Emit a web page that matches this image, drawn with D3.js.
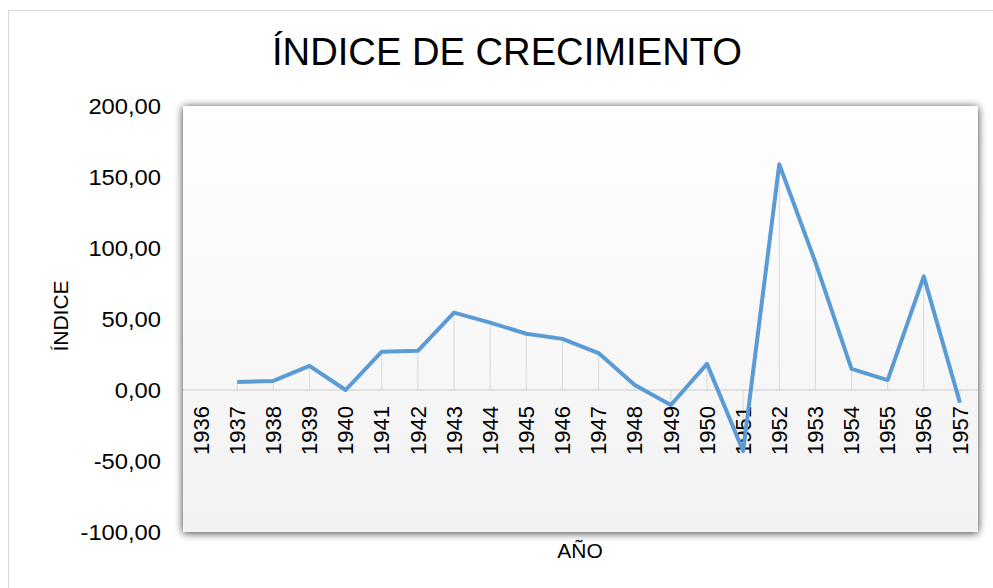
<!DOCTYPE html>
<html>
<head>
<meta charset="utf-8">
<script src="https://cdn.jsdelivr.net/npm/d3@7"></script>
<style>
  body { margin: 0; background: #fff; }
  text { font-family: "Liberation Sans", Arial, sans-serif; fill: #000; }
</style>
</head>
<body>
<svg id="chart" width="993" height="588"></svg>
<script>
// data
var years = ["1936","1937","1938","1939","1940","1941","1942","1943","1944","1945","1946",
             "1947","1948","1949","1950","1951","1952","1953","1954","1955","1956","1957"];
var indice = [null, 5.7, 6.4, 17.0, 0.0, 27.0, 27.6, 54.5, 47.4, 39.6, 36.0,
              26.0, 3.5, -10.6, 18.4, -43.0, 159.0, 90.0, 14.9, 7.0, 80.0, -9.0];
var yTicks = [-100, -50, 0, 50, 100, 150, 200];

var svg = d3.select("#chart"),
    width = +svg.attr("width"),
    height = +svg.attr("height");

var plot = { left: 183, top: 106, right: 978, bottom: 532 };

var defs = svg.append("defs");
var grad = defs.append("linearGradient")
    .attr("id", "bg").attr("x1", 0).attr("y1", 0).attr("x2", 0).attr("y2", 1);
grad.append("stop").attr("offset", "0%").attr("stop-color", "#ffffff");
grad.append("stop").attr("offset", "100%").attr("stop-color", "#f2f2f2");

var shadow = defs.append("filter").attr("id", "shadow")
    .attr("x", "-5%").attr("y", "-10%").attr("width", "110%").attr("height", "120%");
shadow.append("feGaussianBlur").attr("in", "SourceAlpha").attr("stdDeviation", 4).attr("result", "b");
shadow.append("feOffset").attr("in", "b").attr("dx", 0).attr("dy", 1).attr("result", "o");
shadow.append("feComponentTransfer").attr("in", "o").attr("result", "s")
  .append("feFuncA").attr("type", "linear").attr("slope", 0.8);
var merge = shadow.append("feMerge");
merge.append("feMergeNode").attr("in", "s");
merge.append("feMergeNode").attr("in", "SourceGraphic");

// outer chart border
svg.append("rect")
    .attr("x", 8.5).attr("y", 10.5)
    .attr("width", 1000).attr("height", 600)
    .attr("fill", "#fff").attr("stroke", "#d9d9d9");

var x = d3.scaleBand().domain(years).range([plot.left, plot.right]);
var y = d3.scaleLinear().domain([-100, 200]).range([plot.bottom, plot.top]);

// plot area
svg.append("rect")
    .attr("x", plot.left).attr("y", plot.top)
    .attr("width", plot.right - plot.left).attr("height", plot.bottom - plot.top)
    .attr("fill", "url(#bg)")
    .attr("filter", "url(#shadow)");

var cx = function(d) { return x(d) + x.bandwidth() / 2; };

// drop lines
var pts = years.map(function(d, i) { return { year: d, v: indice[i] }; })
               .filter(function(d) { return d.v !== null; });

svg.append("g")
  .selectAll("line")
  .data(pts)
  .enter().append("line")
    .attr("x1", function(d) { return cx(d.year); })
    .attr("x2", function(d) { return cx(d.year); })
    .attr("y1", function(d) { return y(d.v); })
    .attr("y2", y(0))
    .attr("stroke", "#d9d9d9").attr("stroke-width", 1);

// zero axis line
svg.append("line")
    .attr("x1", plot.left).attr("x2", plot.right)
    .attr("y1", y(0)).attr("y2", y(0))
    .attr("stroke", "#d9d9d9").attr("stroke-width", 1.3);

// x labels
var xAxis = svg.append("g")
    .attr("transform", "translate(0," + y(0) + ")")
    .call(d3.axisBottom(x).tickSize(0).tickPadding(0));
xAxis.select(".domain").remove();
xAxis.selectAll("text")
    .attr("transform", "rotate(-90)")
    .attr("x", -16).attr("y", 0).attr("dy", "0.35em")
    .style("text-anchor", "end")
    .style("font-size", "22px")
    .style("font-family", "Liberation Sans, Arial, sans-serif");

// y labels
var yAxis = svg.append("g")
    .attr("transform", "translate(161,0)")
    .call(d3.axisLeft(y).tickValues(yTicks).tickSize(0).tickPadding(0)
      .tickFormat(function(d) { return d3.format(".2f")(d).replace(".", ",").replace("\u2212", "-"); }));
yAxis.select(".domain").remove();
yAxis.selectAll("text")
    .attr("x", 0)
    .attr("dy", "0.35em")
    .attr("transform", "scale(1.08,1)")
    .style("font-size", "22px")
    .style("font-family", "Liberation Sans, Arial, sans-serif");

// line
var line = d3.line()
    .defined(function(d) { return d.v !== null; })
    .x(function(d) { return cx(d.year); })
    .y(function(d) { return y(d.v); });

svg.append("path")
    .datum(pts)
    .attr("d", line)
    .attr("fill", "none")
    .attr("stroke", "#5b9bd5")
    .attr("stroke-width", 4)
    .attr("stroke-linejoin", "round");

// titles
svg.append("text")
    .attr("x", 507).attr("y", 65)
    .attr("text-anchor", "middle")
    .attr("textLength", 470).attr("lengthAdjust", "spacingAndGlyphs")
    .style("font-size", "39px")
    .style("font-family", "Liberation Sans Narrow, Arial Narrow, Liberation Sans, sans-serif")
    .text("ÍNDICE DE CRECIMIENTO");

svg.append("text")
    .attr("transform", "translate(68,316) rotate(-90)")
    .attr("text-anchor", "middle")
    .style("font-size", "21px")
    .text("ÍNDICE");

svg.append("text")
    .attr("x", 580).attr("y", 558)
    .attr("text-anchor", "middle")
    .style("font-size", "21px")
    .text("AÑO");
</script>
</body>
</html>
